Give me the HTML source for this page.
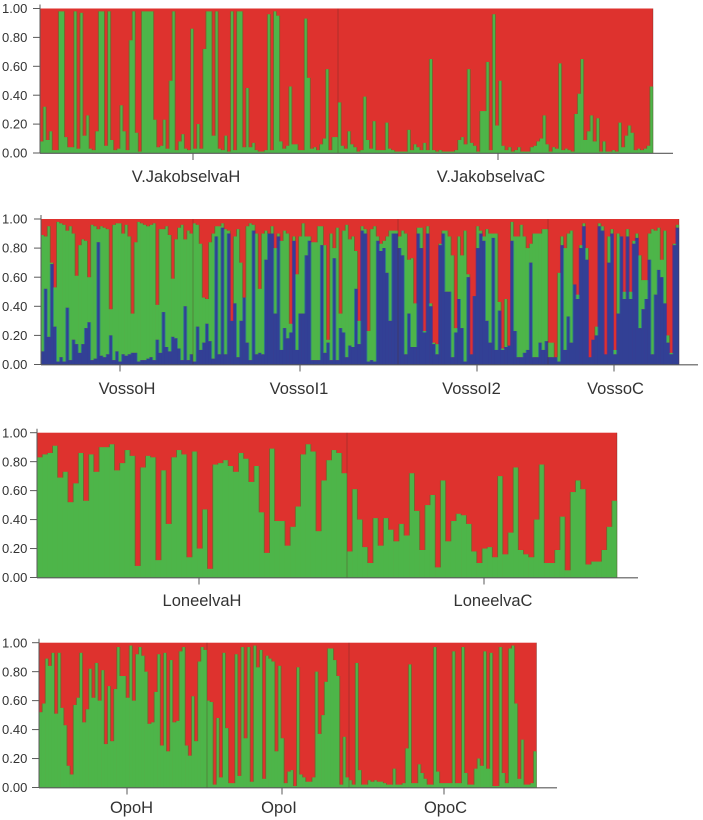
<!DOCTYPE html>
<html lang="en">
<head>
<meta charset="utf-8">
<title>Population structure bar plots</title>
<style>
html,body{margin:0;padding:0;background:#fff;}
svg{display:block;}
text{font-family:"Liberation Sans",Arial,sans-serif;fill:#333;}
</style>
</head>
<body>
<svg id="chart" width="703" height="820" viewBox="0 0 703 820" xmlns="http://www.w3.org/2000/svg">
<defs>
<filter id="soft" filterUnits="userSpaceOnUse" x="0" y="0" width="703" height="820"><feGaussianBlur stdDeviation="0.38"/></filter>
</defs>
</svg>
<script>
const yTickValues = [0, 0.2, 0.4, 0.6, 0.8, 1];

// Panel 1 - green share per individual (red is the remainder)
const jakobselvaHGreen = [.08,.32,.09,.15,.02,.02,.98,.98,.11,.04,.04,.98,.03,.97,.12,.26,.03,.02,.15,.98,.98,.05,.98,.09,.02,.03,.33,.15,.02,.78,.98,.14,.01,.98,.98,.98,.98,.23,.04,.05,.23,.03,.5,.98,.02,.08,.13,.03,.02,.86,.03,.2,.03,.72,.98,.98,.12,.98,.03,.02,.12,.01,.98,.02,.98,.98,.04,.45,.04,.07,.02,.01,.01,.02,.96,.02,.98,.95,.08,.03,.05,.46,.06,.06,.02,.02,.93,.52,.03,.04,.02,.06,.1,.58,.02,.11,.11];
const jakobselvaCGreen = [.35,.05,.03,.15,.06,.04,.01,.02,.39,.09,.03,.22,.02,.02,.02,.21,.03,.02,.01,.01,.01,.01,.16,.02,.06,.04,.02,.07,.02,.65,.02,.01,.02,.01,.01,.01,.01,.02,.09,.11,.06,.58,.07,.05,.01,.29,.29,.63,.02,.96,.19,.5,.05,.02,.04,.01,.02,.04,.01,.01,.01,.04,.05,.08,.1,.26,.06,.01,.04,.03,.62,.02,.03,.02,.01,.27,.41,.65,.09,.15,.26,.08,.24,.01,.08,.01,.01,.02,.01,.21,.04,.12,.19,.14,.02,.03,.02,.03,.05,.46];

// Panel 2 - blue share, and blue + green cumulative share
const vossoHBlue = [.09,.52,.19,.69,.26,.02,.05,.02,.39,.03,.17,.14,.08,.14,.25,.29,.03,.04,.84,.06,.05,.07,.20,.03,.09,.02,.07,.06,.07,.08,.08,.02,.03,.03,.04,.05,.03,.17,.08,.36,.12,.09,.19,.18,.11,.03,.40,.03,.07];
const vossoHUpper = [.89,.88,.95,.70,.53,.98,.97,.96,.92,.95,.90,.61,.82,.86,.85,.60,.96,.95,.93,.95,.94,.93,.38,.96,.97,.97,.90,.96,.88,.35,.84,.98,.97,.96,.95,.96,.97,.41,.93,.93,.95,.89,.59,.86,.94,.96,.86,.92,.90];
const vossoI1Blue = [.02,.26,.10,.15,.28,.16,.04,.88,.07,.94,.07,.90,.30,.42,.05,.30,.46,.15,.03,.92,.07,.08,.07,.72,.90,.90,.35,.88,.10,.25,.18,.22,.85,.10,.35,.35,.75,.85,.03,.03,.03,.82,.08,.15,.03,.73,.03,.25,.22,.05,.13,.12,.52,.14,.92,.90,.02,.03,.02,.85,.78,.80,.63,.30,.90,.90];
const vossoI1Upper = [.97,.96,.83,.46,.45,.84,.90,.95,.95,.97,.93,.92,.30,.88,.93,.70,.46,.95,.97,.96,.90,.52,.90,.92,.90,.95,.80,.90,.85,.92,.90,.28,.88,.62,.88,.97,.88,.88,.84,.84,.95,.95,.82,.17,.90,.80,.94,.35,.92,.96,.86,.88,.78,.30,.95,.93,.23,.93,.95,.88,.83,.85,.88,.92,.92,.92];
const vossoI2Blue = [.80,.75,.07,.35,.12,.12,.90,.80,.22,.90,.40,.14,.07,.82,.90,.50,.50,.05,.22,.45,.25,.02,.60,.07,.47,.80,.90,.85,.30,.15,.87,.10,.37,.10,.12,.13,.85,.23,.05,.05,.08,.10,.70,.05,.05,.15,.10,.16];
const vossoI2Upper = [.88,.92,.90,.72,.73,.42,.94,.94,.23,.95,.42,.15,.14,.83,.92,.92,.88,.75,.25,.88,.75,.92,.62,.07,.47,.95,.92,.88,.93,.90,.90,.90,.43,.11,.45,.13,.98,.88,.88,.96,.88,.80,.83,.90,.90,.90,.93,.93];
const vossoCBlue = [.05,.05,.05,.02,.82,.10,.33,.15,.55,.45,.80,.95,.72,.05,.17,.20,.95,.92,.07,.70,.90,.07,.35,.88,.45,.88,.45,.83,.87,.25,.38,.45,.72,.07,.48,.65,.60,.42,.15,.07,.82,.94];
const vossoCUpper = [.15,.15,.05,.63,.88,.80,.90,.92,.55,.48,.82,.97,.80,.05,.17,.26,.97,.95,.07,.88,.93,.10,.90,.88,.50,.93,.50,.85,.90,.75,.58,.58,.90,.93,.92,.94,.72,.92,.20,.08,.83,.96];

// Panel 3 - green share
const loneelvaHGreen = [.83,.85,.86,.91,.69,.73,.52,.65,.86,.53,.85,.73,.90,.90,.92,.74,.79,.88,.84,.08,.76,.84,.83,.12,.74,.37,.83,.88,.85,.14,.87,.20,.47,.06,.78,.79,.81,.77,.73,.86,.82,.66,.77,.45,.17,.89,.39,.39,.22,.35,.49,.85,.92,.87,.32,.67,.81,.88,.86,.72];
const loneelvaCGreen = [.18,.61,.40,.21,.10,.41,.22,.41,.33,.25,.37,.29,.72,.46,.19,.50,.57,.07,.67,.25,.39,.44,.43,.37,.18,.10,.20,.21,.14,.70,.16,.31,.76,.19,.16,.14,.40,.78,.10,.10,.19,.42,.05,.59,.67,.61,.09,.11,.11,.19,.35,.53];

// Panel 4 - green share
const opoHGreen = [.52,.58,.89,.84,.93,.51,.93,.55,.43,.15,.09,.57,.62,.93,.45,.54,.82,.62,.86,.60,.81,.30,.70,.32,.68,.97,.77,.77,.62,.98,.60,.92,.97,.91,.80,.44,.45,.66,.92,.29,.93,.25,.88,.45,.46,.94,.97,.29,.22,.63,.32,.87,.97,.95];
const opoIGreen = [.60,.59,.02,.48,.07,.93,.41,.03,.03,.92,.08,.97,.34,.97,.04,.98,.83,.95,.06,.91,.89,.87,.25,.84,.34,.03,.11,.12,.01,.83,.09,.07,.04,.04,.07,.80,.37,.50,.73,.96,.96,.88,.77,.02,.35,.07];
const opoCGreen = [.05,.02,.86,.12,.02,.02,.05,.04,.05,.04,.04,.03,.02,.02,.13,.02,.02,.03,.27,.85,.03,.03,.16,.10,.06,.02,.02,.97,.11,.03,.03,.03,.03,.94,.03,.03,.97,.10,.02,.02,.13,.20,.15,.94,.13,.93,.01,.01,.97,.10,.03,.96,.98,.58,.06,.33,.02,.02,.03,.25];

const jakobselvaLabels = ["V.JakobselvaH", "V.JakobselvaC"];
const vossoLabels = ["VossoH", "VossoI1", "VossoI2", "VossoC"];
const loneelvaLabels = ["LoneelvaH", "LoneelvaC"];
const opoLabels = ["OpoH", "OpoI", "OpoC"];

const panels = [
  {name:"jakobselva", labels:jakobselvaLabels, lower:null, upper:[jakobselvaHGreen,jakobselvaCGreen],
   frame:{top:8.5,base:153,axisEnd:673,edges:[40,338,653],tickNudge:[4,2.5],labelNudge:[-3,-4.5],labelY:182}},
  {name:"vosso", labels:vossoLabels, lower:[vossoHBlue,vossoI1Blue,vossoI2Blue,vossoCBlue], upper:[vossoHUpper,vossoI1Upper,vossoI2Upper,vossoCUpper],
   frame:{top:219,base:364.5,axisEnd:698,edges:[41,193,398,548,679],tickNudge:[3,4.5,4,.5],labelNudge:[10,3.5,-1.5,2],labelY:394}},
  {name:"loneelva", labels:loneelvaLabels, lower:null, upper:[loneelvaHGreen,loneelvaCGreen],
   frame:{top:432.7,base:577.5,axisEnd:638,edges:[37,347,617],tickNudge:[7,2],labelNudge:[10,11],labelY:606}},
  {name:"opo", labels:opoLabels, lower:null, upper:[opoHGreen,opoIGreen,opoCGreen],
   frame:{top:642.7,base:787.5,axisEnd:557,edges:[39,207,349,536.5],tickNudge:[4,4,1.25],labelNudge:[8.5,1,2.75],labelY:813}}
];

const RED = "#de302d", GREEN = "#4eb548", BLUE = "#333f95", AXIS = "#5a5a5a";
const FRINGE_RED_GREEN = "#80592a", FRINGE_BLUE_GREEN = "#2b7f8a", FRINGE_BLUE_RED = "#6f2c80";
const NS = "http://www.w3.org/2000/svg";
const svg = document.getElementById("chart");

function make(parent, tag, attrs) {
  const el = document.createElementNS(NS, tag);
  for (const k in attrs) el.setAttribute(k, attrs[k]);
  parent.appendChild(el);
  return el;
}
function yScale(frame, v) { return frame.base - (frame.base - frame.top) * v; }
function xBand(frame, g, i, n) {
  const a = frame.edges[g], b = frame.edges[g + 1];
  return a + (b - a) * i / n;
}
function segment(parent, x, w, y0, y1, fill, name) {
  if (y1 - y0 <= 0) return;
  const r = make(parent, "rect", {x: x - 0.15, y: y0, width: w + 0.3, height: y1 - y0, fill: fill});
  
  
}
function clusterAt(v, b, u) { return v < b ? "blue" : (v < u ? "green" : "red"); }
function fringeColor(a, c) {
  if (a === c) return null;
  if (a === "red" && c === "green" || a === "green" && c === "red") return FRINGE_RED_GREEN;
  if (a === "blue" && c === "green" || a === "green" && c === "blue") return FRINGE_BLUE_GREEN;
  return FRINGE_BLUE_RED;
}
// Darker mixed-colour fringe where two neighbouring bars meet in different clusters
function drawFringes(parent, f, x, bL, uL, bR, uR, name) {
  const stops = [0, bL, uL, bR, uR, 1].sort(function (m, n) { return m - n; });
  for (let s = 0; s < stops.length - 1; s++) {
    const lo = stops[s], hi = stops[s + 1];
    if (hi <= lo) continue;
    const mid = (lo + hi) / 2;
    const col = fringeColor(clusterAt(mid, bL, uL), clusterAt(mid, bR, uR));
    if (!col) continue;
    const line = make(parent, "line", {x1: x, x2: x, y1: yScale(f, hi), y2: yScale(f, lo), stroke: col, "stroke-width": 1, "stroke-opacity": 0.8});
    
    
  }
}

panels.forEach(function (p) {
  const f = p.frame;
  const group = make(svg, "g", {});
  
  
  const bars = make(group, "g", {filter: "url(#soft)"});
  
  

  const x0 = f.edges[0], xEnd = f.edges[f.edges.length - 1];
  const field = make(bars, "rect", {x: x0, y: f.top, width: xEnd - x0, height: f.base - f.top, fill: RED});
  
  

  p.upper.forEach(function (series, g) {
    const lower = p.lower ? p.lower[g] : null;
    series.forEach(function (u, i) {
      const x = xBand(f, g, i, series.length);
      const w = (f.edges[g + 1] - f.edges[g]) / series.length;
      const b = lower ? lower[i] : 0;
      segment(bars, x, w, yScale(f, u), yScale(f, b), GREEN, p.name + '-bar-green');
      if (lower) segment(bars, x, w, yScale(f, b), f.base, BLUE, p.name + '-bar-blue');
    });
  });
  p.upper.forEach(function (series, g) {
    const lower = p.lower ? p.lower[g] : null;
    for (let i = 1; i < series.length; i++) {
      const x = xBand(f, g, i, series.length);
      drawFringes(bars, f, x, lower ? lower[i - 1] : 0, series[i - 1], lower ? lower[i] : 0, series[i], p.name + '-bar-fringe');
    }
  });

  // group dividers and right edge
  f.edges.slice(1).forEach(function (x) {
    const d = make(group, "line", {x1: x, x2: x, y1: f.top, y2: f.base, stroke: "#5a2a20", "stroke-opacity": 0.35, "stroke-width": 1});
    
    
  });

  // axes
  const yAxis = make(group, "line", {x1: x0, x2: x0, y1: f.top - 4, y2: f.base, stroke: AXIS, "stroke-width": 1});
  
  
  const xAxis = make(group, "line", {x1: x0, x2: f.axisEnd, y1: f.base + 0.3, y2: f.base + 0.3, stroke: AXIS, "stroke-width": 1.2});
  
  

  yTickValues.forEach(function (v) {
    const y = yScale(f, v);
    const t = make(group, "line", {x1: x0 - 7, x2: x0, y1: y, y2: y, stroke: AXIS, "stroke-width": 1});
    
    
    const lab = make(group, "text", {x: 2, y: y + 4.6, "font-size": 13});
    
    
    lab.textContent = v.toFixed(2);
  });

  p.labels.forEach(function (name, g) {
    const c = (f.edges[g] + f.edges[g + 1]) / 2;
    const tx = c + f.tickNudge[g];
    const t = make(group, "line", {x1: tx, x2: tx, y1: f.base, y2: f.base + 7, stroke: AXIS, "stroke-width": 1});
    
    
    const lab = make(group, "text", {x: c + f.labelNudge[g], y: f.labelY, "font-size": 16.5, "text-anchor": "middle"});
    
    
    lab.textContent = name;
  });
});
</script>
</body>
</html>
